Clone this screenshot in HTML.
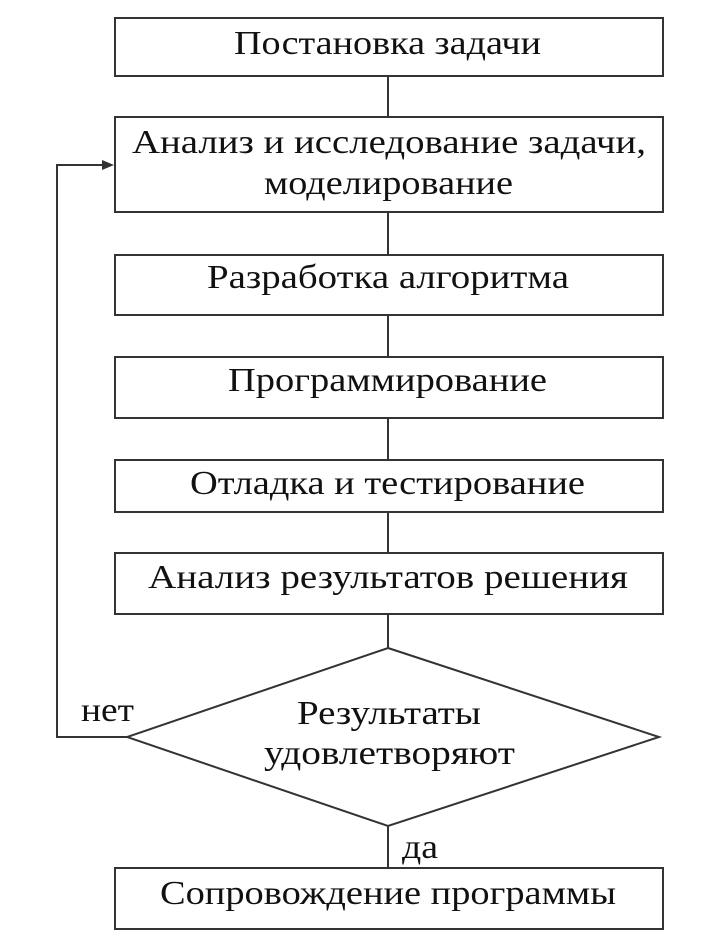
<!DOCTYPE html>
<html><head><meta charset="utf-8"><style>html,body{margin:0;padding:0;background:#fff}svg{display:block}</style></head>
<body>
<svg width="720" height="948" viewBox="0 0 720 948" xmlns="http://www.w3.org/2000/svg">
<g fill="#fff" stroke="#333" stroke-width="2">
<rect x="115" y="18" width="548" height="58"/>
<rect x="115" y="117" width="548" height="95"/>
<rect x="115" y="255" width="548" height="60"/>
<rect x="115" y="357" width="548" height="61"/>
<rect x="115" y="460" width="548" height="52"/>
<rect x="115" y="553" width="548" height="61"/>
<polygon points="388,648 659,737 388,826 127,737"/>
<rect x="115" y="868" width="548" height="61"/>
</g>
<g stroke="#333" stroke-width="2" fill="none">
<line x1="388" y1="76" x2="388" y2="117"/>
<line x1="388" y1="212" x2="388" y2="255"/>
<line x1="388" y1="315" x2="388" y2="357"/>
<line x1="388" y1="418" x2="388" y2="460"/>
<line x1="388" y1="512" x2="388" y2="553"/>
<line x1="388" y1="614" x2="388" y2="648"/>
<line x1="388" y1="826" x2="388" y2="868"/>
<polyline points="127,737 57,737 57,165 106,165"/>
</g>
<polygon points="114,165 102,160 102,170" fill="#333"/>
<g font-family="'Liberation Serif', 'Noto Serif CJK SC', serif" font-size="34" fill="#111">
<text x="234" y="54" textLength="307" lengthAdjust="spacingAndGlyphs">Постановка задачи</text>
<text x="132" y="153" textLength="514" lengthAdjust="spacingAndGlyphs">Анализ и исследование задачи,</text>
<text x="264" y="194" textLength="249" lengthAdjust="spacingAndGlyphs">моделирование</text>
<text x="207" y="288" textLength="362" lengthAdjust="spacingAndGlyphs">Разработка алгоритма</text>
<text x="228" y="391" textLength="319" lengthAdjust="spacingAndGlyphs">Программирование</text>
<text x="190" y="494" textLength="395" lengthAdjust="spacingAndGlyphs">Отладка и тестирование</text>
<text x="148" y="588" textLength="480" lengthAdjust="spacingAndGlyphs">Анализ результатов решения</text>
<text x="297" y="724" textLength="184" lengthAdjust="spacingAndGlyphs">Результаты</text>
<text x="264" y="764" textLength="251" lengthAdjust="spacingAndGlyphs">удовлетворяют</text>
<text x="81" y="721" textLength="53" lengthAdjust="spacingAndGlyphs">нет</text>
<text x="402" y="858" textLength="36" lengthAdjust="spacingAndGlyphs">да</text>
<text x="160" y="904" textLength="456" lengthAdjust="spacingAndGlyphs">Сопровождение программы</text>
</g>
</svg>
</body></html>
